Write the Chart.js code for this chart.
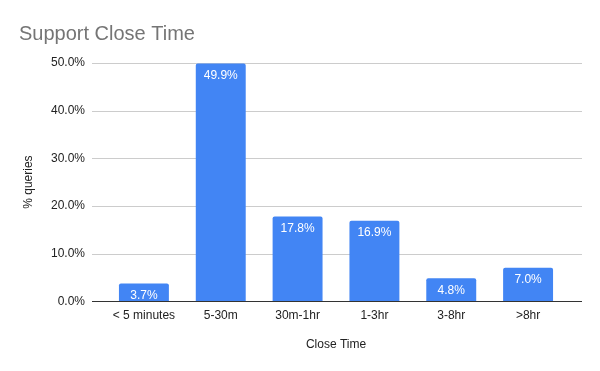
<!DOCTYPE html>
<html><head><meta charset="utf-8">
<script src="https://cdn.jsdelivr.net/npm/chart.js@4"></script>
<style>html,body{margin:0;padding:0;background:#fff}#wrap{width:600px;height:371px}</style>
</head><body><div id="wrap"><canvas id="c"></canvas></div>
<script>
const categories = ["< 5 minutes", "5-30m", "30m-1hr", "1-3hr", "3-8hr", ">8hr"];
const percentQueries = [3.7, 49.9, 17.8, 16.9, 4.8, 7.0];
const yTicks = [0, 10, 20, 30, 40, 50];

const FONT = "Arial, 'Liberation Sans', sans-serif";

const extendGrid = {
  id: 'extendGrid',
  beforeDatasetsDraw(chart) {
    const y = chart.scales.y, a = chart.chartArea, ctx = chart.ctx;
    ctx.save();
    y.ticks.forEach(t => {
      const py = Math.round(y.getPixelForValue(t.value)) + 0.5;
      ctx.strokeStyle = t.value === 0 ? '#333333' : '#cccccc';
      ctx.lineWidth = 1;
      ctx.beginPath();
      ctx.moveTo(a.left - 13.5, py);
      ctx.lineTo(a.right + 15.5, py);
      ctx.stroke();
    });
    ctx.restore();
  },
  afterDatasetsDraw(chart) {
    const y = chart.scales.y, a = chart.chartArea, ctx = chart.ctx;
    ctx.save();
    const py = Math.round(y.getPixelForValue(0)) + 0.5;
    ctx.strokeStyle = '#333333';
    ctx.beginPath();
    ctx.moveTo(a.left - 13.5, py);
    ctx.lineTo(a.right + 15.5, py);
    ctx.stroke();
    ctx.restore();
  }
};

const barLabels = {
  id: 'barLabels',
  afterDatasetsDraw(chart) {
    const ctx = chart.ctx;
    const meta = chart.getDatasetMeta(0);
    ctx.save();
    ctx.fillStyle = '#ffffff';
    ctx.font = '12px ' + FONT;
    ctx.textAlign = 'center';
    ctx.textBaseline = 'middle';
    meta.data.forEach((bar, i) => {
      const v = chart.data.datasets[0].data[i];
      ctx.fillText(v.toFixed(1) + '%', bar.x, bar.y + 12);
    });
    ctx.restore();
  }
};

new Chart(document.getElementById('c'), {
  type: 'bar',
  data: {
    labels: categories,
    datasets: [{
      data: percentQueries,
      backgroundColor: '#4285f4',
      borderRadius: {topLeft: 2, topRight: 2},
      borderSkipped: 'bottom',
      barPercentage: 0.65,
      categoryPercentage: 1.0
    }]
  },
  options: {
    responsive: true,
    maintainAspectRatio: false,
    animation: false,
    layout: {padding: {left: 19, right: 33.5, top: 0, bottom: 19}},
    plugins: {
      legend: {display: false},
      tooltip: {enabled: false},
      title: {
        display: true,
        text: 'Support Close Time',
        align: 'start',
        color: '#757575',
        font: {family: FONT, size: 20, weight: 'normal'},
        padding: {top: 22, bottom: 17}
      }
    },
    scales: {
      x: {
        grid: {display: false, drawTicks: false},
        border: {display: false},
        ticks: {color: '#222222', font: {family: FONT, size: 12}, padding: 7, maxRotation: 0, autoSkip: false},
        title: {display: true, text: 'Close Time', color: '#222222', font: {family: FONT, size: 12}, padding: {top: 8, bottom: 0}}
      },
      y: {
        min: 0, max: 50,
        afterFit(s) { s.width = 86.5; },
        afterBuildTicks(s) { s.ticks = yTicks.map(v => ({value: v})); },
        grid: {display: false, drawTicks: false},
        border: {display: false},
        ticks: {color: '#222222', font: {family: FONT, size: 12}, padding: 20.5, callback: v => v.toFixed(1) + '%'},
        title: {display: true, text: '% queries', color: '#222222', font: {family: FONT, size: 12}, padding: {top: 2, bottom: 0}}
      }
    }
  },
  plugins: [extendGrid, barLabels]
});
</script>
</body></html>
